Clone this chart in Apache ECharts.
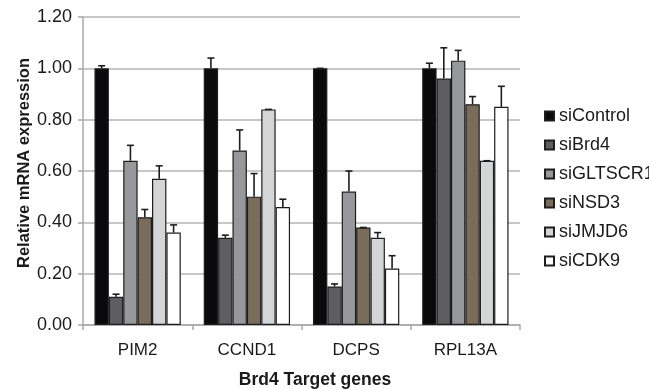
<!DOCTYPE html>
<html>
<head>
<meta charset="utf-8">
<script src="https://cdn.jsdelivr.net/npm/echarts@6/dist/echarts.min.js"></script>
<style>
html,body{margin:0;padding:0;background:#fff;}
#chart{width:649px;height:390px;}
</style>
</head>
<body>
<div id="chart"></div>
<script>
const categories = ['PIM2', 'CCND1', 'DCPS', 'RPL13A'];
const seriesNames = ['siControl', 'siBrd4', 'siGLTSCR1', 'siNSD3', 'siJMJD6', 'siCDK9'];
const siControl = [1.00, 1.00, 1.00, 1.00];
const siBrd4 = [0.11, 0.34, 0.15, 0.96];
const siGLTSCR1 = [0.64, 0.68, 0.52, 1.03];
const siNSD3 = [0.42, 0.50, 0.38, 0.86];
const siJMJD6 = [0.57, 0.84, 0.34, 0.64];
const siCDK9 = [0.36, 0.46, 0.22, 0.85];
const siControlErr = [0.01, 0.04, 0.00, 0.02];
const siBrd4Err = [0.01, 0.01, 0.01, 0.12];
const siGLTSCR1Err = [0.06, 0.08, 0.08, 0.04];
const siNSD3Err = [0.03, 0.09, 0.00, 0.03];
const siJMJD6Err = [0.05, 0.00, 0.02, 0.00];
const siCDK9Err = [0.03, 0.03, 0.05, 0.08];
const yTicks = ['0.00', '0.20', '0.40', '0.60', '0.80', '1.00', '1.20'];

const values = [siControl, siBrd4, siGLTSCR1, siNSD3, siJMJD6, siCDK9];
const errors = [siControlErr, siBrd4Err, siGLTSCR1Err, siNSD3Err, siJMJD6Err, siCDK9Err];
const colors = ['#0a0a0c', '#5e5e61', '#97989c', '#7a6c5b', '#d4d5d7', '#ffffff'];
const CAT_GAP = 0.21;
const N = seriesNames.length;

const chart = echarts.init(document.getElementById('chart'));

const barSeries = seriesNames.map((name, i) => ({
  name: name,
  type: 'bar',
  data: values[i],
  barGap: '0%',
  barCategoryGap: (CAT_GAP * 100) + '%',
  itemStyle: { color: colors[i], borderColor: '#1e1e1e', borderWidth: 1.2 },
  z: 2
}));

const errSeries = seriesNames.map((name, i) => ({
  type: 'custom',
  data: values[i].map((v, k) => [k, v, v + errors[i][k]]),
  encode: { x: 0, y: [1, 2] },
  z: 3,
  silent: true,
  renderItem: function (params, api) {
    const k = api.value(0);
    const center = api.coord([k, 0])[0];
    const band = api.size([1, 0])[0];
    const bw = band * (1 - CAT_GAP) / N;
    const x = center - (N / 2) * bw + (i + 0.5) * bw;
    const yLow = api.coord([k, api.value(1)])[1];
    const yHigh = api.coord([k, api.value(2)])[1];
    const cap = 3.5;
    const st = { stroke: '#1e1e1e', lineWidth: 1.6 };
    return {
      type: 'group',
      children: [
        { type: 'line', shape: { x1: x, y1: yLow, x2: x, y2: yHigh }, style: st },
        { type: 'line', shape: { x1: x - cap, y1: yHigh, x2: x + cap, y2: yHigh }, style: st }
      ]
    };
  }
}));

chart.setOption({
  animation: false,
  textStyle: { fontFamily: 'Liberation Sans, Arial, sans-serif' },
  grid: { left: 83, right: 129, top: 17, bottom: 65 },
  legend: {
    data: seriesNames,
    orient: 'vertical',
    left: 539,
    top: 102,
    itemWidth: 9,
    itemHeight: 9,
    itemGap: 11,
    icon: 'rect',
    textStyle: { fontSize: 18, color: '#1a1a1a', fontFamily: 'Liberation Sans, Arial, sans-serif' }
  },
  xAxis: {
    type: 'category',
    data: categories,
    axisLine: { lineStyle: { color: '#a8a8a8', width: 1.5 } },
    axisTick: { show: true, alignWithLabel: false, length: 5, lineStyle: { color: '#a8a8a8', width: 1.5 } },
    axisLabel: { fontSize: 17, color: '#1a1a1a', margin: 17 },
    splitLine: { show: false }
  },
  yAxis: {
    type: 'value',
    min: 0,
    max: 1.2,
    interval: 0.2,
    axisLine: { show: true, lineStyle: { color: '#a8a8a8', width: 1.5 } },
    axisTick: { show: true, length: 5, lineStyle: { color: '#a8a8a8', width: 1.5 } },
    axisLabel: { fontSize: 18, color: '#1a1a1a', margin: 11,
      formatter: function (v) { return yTicks[Math.round(v / 0.2)]; } },
    splitLine: { show: true, lineStyle: { color: '#b4b4b4', width: 1.5 } }
  },
  graphic: [
    { type: 'text', x: 24, y: 163, rotation: Math.PI / 2,
      style: { text: 'Relative mRNA expression', fontSize: 16.5, fontWeight: 'bold', fill: '#1a1a1a',
        align: 'center', verticalAlign: 'middle', fontFamily: 'Liberation Sans, Arial, sans-serif' } },
    { type: 'text', x: 315, y: 380,
      style: { text: 'Brd4 Target genes', fontSize: 17.5, fontWeight: 'bold', fill: '#1a1a1a',
        align: 'center', verticalAlign: 'middle', fontFamily: 'Liberation Sans, Arial, sans-serif' } }
  ],
  series: barSeries.concat(errSeries)
});
</script>
</body>
</html>
